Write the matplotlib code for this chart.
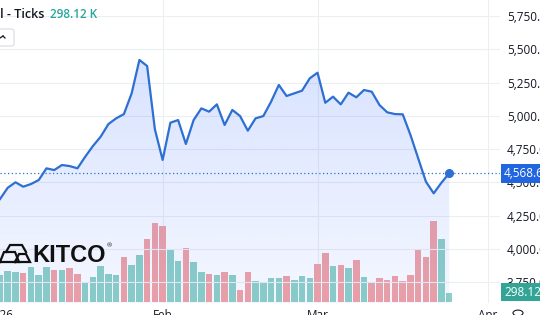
import numpy as np
import matplotlib
matplotlib.use("Agg")
import matplotlib.pyplot as plt
from matplotlib.patches import FancyBboxPatch, Circle
from matplotlib.lines import Line2D
from matplotlib.transforms import blended_transform_factory

plt.rcParams['font.family'] = ['Open Sans', 'DejaVu Sans']

# daily closes, Jan 2 .. late Mar 2026
price = [4374, 4459, 4500, 4467, 4487, 4517, 4605, 4592, 4630, 4622,
         4605, 4692, 4773, 4843, 4938, 4981, 5013, 5169, 5420, 5374,
         4898, 4668, 4948, 4968, 4788, 4968, 5056, 5031, 5086, 4931,
         5044, 4998, 4888, 4981, 4998, 5106, 5232, 5149, 5169, 5189,
         5282, 5324, 5098, 5144, 5086, 5174, 5139, 5194, 5181, 5081,
         5026, 5013, 5011, 4856, 4680, 4504, 4417, 4497, 4568]

# tick volume in thousands
volume = [884, 1026, 973, 950, 1149, 874, 1149, 1059, 1059, 1106,
          907, 609, 818, 1182, 917, 874, 1490, 1225, 1556, 2085,
          2615, 2496, 1711, 1337, 1777, 1314, 983, 917, 874, 983,
          874, 387, 983, 675, 609, 794, 794, 851, 708, 841,
          794, 1258, 1602, 1182, 1225, 1125, 1380, 818, 642, 794,
          708, 851, 675, 874, 1754, 1490, 2681, 2065, 298.12]

# 1 = teal bar, 0 = red bar
vol_up = [1, 1, 1, 0, 1, 1, 1, 0, 1, 0,
          0, 1, 1, 1, 1, 1, 0, 1, 1, 0,
          0, 0, 1, 1, 0, 1, 1, 0, 1, 0,
          1, 0, 0, 1, 1, 1, 1, 0, 1, 1,
          1, 0, 0, 1, 0, 1, 0, 1, 0, 0,
          0, 0, 0, 0, 0, 0, 0, 1, 1]

price_levels = [3750, 4000, 4250, 4500, 4750, 5000, 5250, 5500, 5750]
month_pos = [0, 21, 41, 63]
month_labels = ['2026', 'Feb', 'Mar', 'Apr']
last_price_label = '4,568.60'
last_vol_label = '298.12K'

W, H = 540, 315
fig = plt.figure(figsize=(W / 100, H / 100), dpi=100)
fig.patch.set_facecolor('white')


def px(x, y):
    # pixel (from top-left) -> figure fraction
    return x / W, 1 - y / H


rect = [0, 12 / H, 500 / W, 303 / H]
ax_vol = fig.add_axes(rect)
ax = fig.add_axes(rect, sharex=ax_vol)
ax.patch.set_alpha(0)

x = np.arange(len(price))

# volume pane (background)
bar_cols = ['#8ed0c6' if u else '#f2a2a4' for u in vol_up]
ax_vol.bar(x, volume, width=0.84, color=bar_cols, zorder=2)
ax_vol.set_ylim(-43, 9986)
ax_vol.set_xlim(0.13, 64.56)
ax_vol.set_yticks([])
ax_vol.set_xticks(month_pos)
ax_vol.set_xticklabels(month_labels, fontsize=8.5, color='#131722')
ax_vol.tick_params(axis='x', length=0, pad=4)
for xv in month_pos[1:]:
    ax_vol.axvline(xv, color='#eceef2', lw=0.8, zorder=0)
for s in ax_vol.spines.values():
    s.set_visible(False)

# price pane
ylo, yhi = 3592.5, 5870.7
ax.set_ylim(ylo, yhi)
for p in price_levels:
    ax.axhline(p, color='#eceef2', lw=0.8, zorder=0)

line_col = '#2d6fd2'
poly = ax.fill_between(x, price, ylo, facecolor='none', edgecolor='none')
grad = np.linspace(0.18, 0.05, 256).reshape(-1, 1)
rgba = np.zeros((256, 1, 4))
rgba[..., 0] = 41 / 255
rgba[..., 1] = 98 / 255
rgba[..., 2] = 255 / 255
rgba[..., 3] = grad
im = ax.imshow(rgba, extent=[x[0], x[-1], ylo, max(price)], aspect='auto',
               origin='upper', zorder=1)
im.set_clip_path(poly.get_paths()[0], transform=ax.transData)

ax.plot(x, price, color=line_col, lw=1.6, zorder=4, solid_joinstyle='round')
ax.axhline(price[-1], color=line_col, lw=0.9, ls=(0, (1, 2)), zorder=3)
ax.plot(x[-1], price[-1], 'o', color=line_col, ms=5.5, zorder=5)

ax.yaxis.tick_right()
ax.set_yticks(price_levels)
ax.set_yticklabels([f'{p:,.1f}' for p in price_levels], fontsize=8.5, color='#131722')
ax.tick_params(axis='y', length=0, pad=5)
ax.tick_params(axis='x', length=0, labelbottom=False)
for s in ax.spines.values():
    s.set_visible(False)

# last price / volume badges
tr = blended_transform_factory(ax.transAxes, ax.transData)
ax.text(1.0 + 3.5 / 500, price[-1], last_price_label, transform=tr, fontsize=8.5,
        color='white', va='center', ha='left', zorder=10, clip_on=False,
        bbox=dict(boxstyle='square,pad=0.25', fc='#2166e0', ec='none'))
fig.text(504 / W, 1 - 292 / H, last_vol_label, fontsize=8.5, color='white',
         va='center', ha='left', zorder=10,
         bbox=dict(boxstyle='square,pad=0.25', fc='#32a596', ec='none'))

# legend in the top-left corner
fig.text(*px(44, 15), 'Vol - Ticks', ha='right', va='center', fontsize=9,
         color='#131722', fontweight='semibold')
fig.text(*px(50, 15), '298.12 K', ha='left', va='center', fontsize=8.5,
         color='#26a69a', fontweight='semibold')
btn = FancyBboxPatch(px(-6, 46), 20 / W, 17 / H, boxstyle='round,pad=0,rounding_size=0.006',
                     transform=fig.transFigure, fc='white', ec='#d8dbe2', lw=0.8)
fig.add_artist(btn)
fig.add_artist(Line2D([0, 3 / W], [1 - 38 / H, 1 - 36 / H], transform=fig.transFigure,
                      color='#131722', lw=0.9))
fig.add_artist(Line2D([3 / W, 5 / W], [1 - 36 / H, 1 - 38 / H], transform=fig.transFigure,
                      color='#131722', lw=0.9))

# KITCO watermark
icon = [
    [(6, 252), (10, 245), (22, 245), (26, 252)],
    [(0, 262), (4, 252), (15, 252), (19, 262), (0, 262)],
    [(15, 262), (19, 254), (26, 254), (30, 262), (15, 262)],
]
for seg in icon:
    xs = [a / W for a, b in seg]
    ys = [1 - b / H for a, b in seg]
    fig.add_artist(Line2D(xs, ys, transform=fig.transFigure, color='#111111', lw=1.6,
                          solid_joinstyle='miter'))
fig.text(*px(32, 256), 'KITCO', family='Liberation Sans', fontweight='bold',
         fontsize=17, color='#111111', ha='left', va='center')
fig.text(*px(107, 246), '®', fontsize=4.5, color='#111111', ha='left', va='center')

# settings icon at the corner of the time axis
fig.add_artist(Circle(px(518, 313), 5 / W, transform=fig.transFigure, fc='none',
                      ec='#131722', lw=0.8))

fig.savefig('out.png', dpi=100)
